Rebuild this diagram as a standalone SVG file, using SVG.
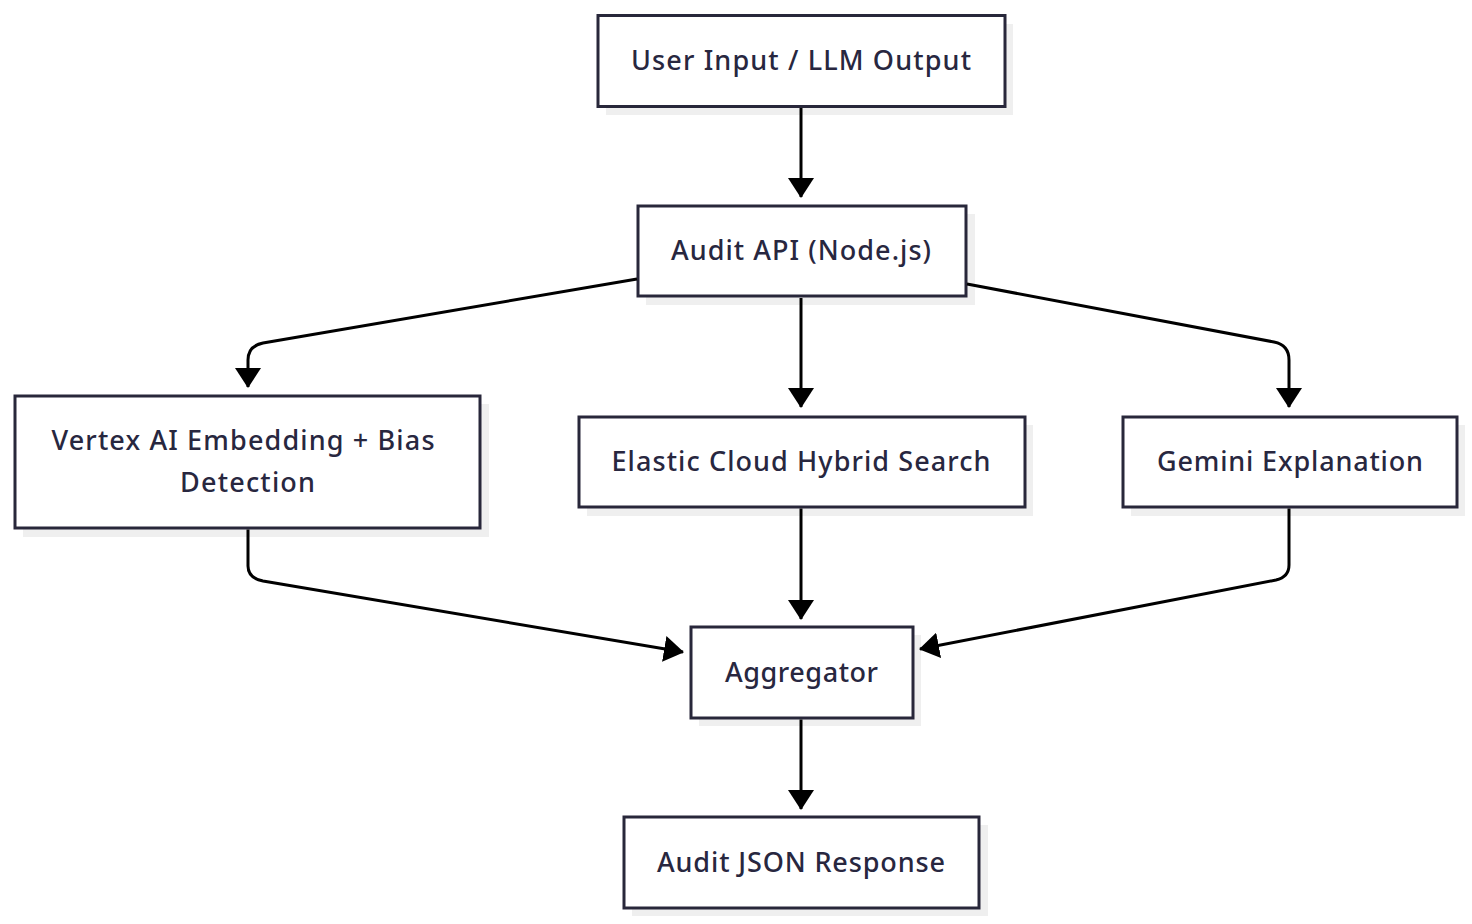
<svg xmlns="http://www.w3.org/2000/svg" width="1472" height="924" viewBox="0 0 1472 924">
  <style>
    .shadow { fill: #efefef; stroke: none; }
    .box { fill: #ffffff; stroke: #28273a; stroke-width: 3; }
    .label { font-family: "Noto Sans", "DejaVu Sans", sans-serif; font-size: 27px; font-weight: 500; fill: #28273f; text-anchor: middle; }
    .edge { fill: none; stroke: #000000; stroke-width: 3; }
  </style>
  <defs>
    <marker id="arrow" markerUnits="userSpaceOnUse" markerWidth="20" markerHeight="26" viewBox="0 0 20 26" refX="19" refY="13" orient="auto">
      <path d="M0,0 L20,13 L0,26 Z" fill="#000000"/>
    </marker>
  </defs>
  <rect width="1472" height="924" fill="#ffffff"/>

  <g id="node-user-input">
    <rect class="shadow" x="606" y="24" width="407" height="91"/>
    <rect class="box" x="598" y="15.5" width="407" height="91"/>
    <text class="label" x="801" y="70" textLength="340" lengthAdjust="spacing">User Input / LLM Output</text>
  </g>

  <g id="node-audit-api">
    <rect class="shadow" x="646" y="214" width="329" height="91"/>
    <rect class="box" x="638" y="206" width="328" height="90"/>
    <text class="label" x="801" y="260" textLength="260" lengthAdjust="spacing">Audit API (Node.js)</text>
  </g>

  <g id="node-vertex">
    <rect class="shadow" x="23" y="404" width="466" height="133"/>
    <rect class="box" x="15" y="396" width="465" height="132"/>
    <text class="label" x="243" y="450" textLength="383" lengthAdjust="spacing">Vertex AI Embedding + Bias</text>
    <text class="label" x="247.5" y="492" textLength="135" lengthAdjust="spacing">Detection</text>
  </g>

  <g id="node-elastic">
    <rect class="shadow" x="587" y="425" width="446" height="91"/>
    <rect class="box" x="579" y="417" width="446" height="90"/>
    <text class="label" x="801" y="471" textLength="379" lengthAdjust="spacing">Elastic Cloud Hybrid Search</text>
  </g>

  <g id="node-gemini">
    <rect class="shadow" x="1131" y="425" width="334" height="91"/>
    <rect class="box" x="1123" y="417" width="334" height="90"/>
    <text class="label" x="1290" y="471" textLength="266" lengthAdjust="spacing">Gemini Explanation</text>
  </g>

  <g id="node-aggregator">
    <rect class="shadow" x="699" y="635" width="222" height="91"/>
    <rect class="box" x="691" y="627" width="222" height="91"/>
    <text class="label" x="801.5" y="682" textLength="153" lengthAdjust="spacing">Aggregator</text>
  </g>

  <g id="node-audit-json">
    <rect class="shadow" x="632" y="825" width="356" height="91"/>
    <rect class="box" x="624" y="817" width="355" height="91"/>
    <text class="label" x="801" y="872" textLength="288" lengthAdjust="spacing">Audit JSON Response</text>
  </g>

  <g id="connectors">
    <path class="edge" d="M801,108 L801,197" marker-end="url(#arrow)"/>
    <path class="edge" d="M637,279 L263,343 Q248,346 248,360 L248,387" marker-end="url(#arrow)"/>
    <path class="edge" d="M801,298 L801,407" marker-end="url(#arrow)"/>
    <path class="edge" d="M967,284 L1274,342 Q1289,345 1289,360 L1289,407" marker-end="url(#arrow)"/>
    <path class="edge" d="M248,529.5 L248,566 Q248,578 263,581 L683,652" marker-end="url(#arrow)"/>
    <path class="edge" d="M801,508.5 L801,619" marker-end="url(#arrow)"/>
    <path class="edge" d="M1289,508.5 L1289,565 Q1289,577 1276,580 L920,649" marker-end="url(#arrow)"/>
    <path class="edge" d="M801,719.5 L801,809" marker-end="url(#arrow)"/>
  </g>
</svg>
